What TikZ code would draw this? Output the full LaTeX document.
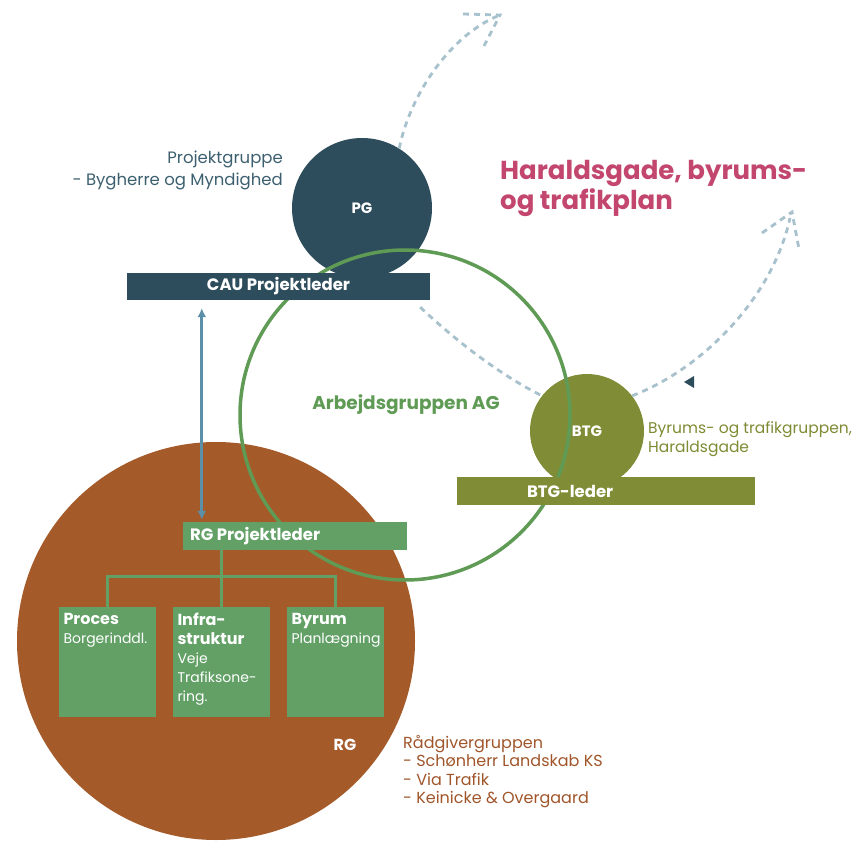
\documentclass[tikz,border=0pt]{standalone}
\usepackage{fontspec}
\setmainfont{Poppins}
\usetikzlibrary{positioning,arrows.meta}

\definecolor{slate}{HTML}{2E4D5C}
\definecolor{slatetext}{HTML}{3D6070}
\definecolor{rose}{HTML}{C2466E}
\definecolor{leaf}{HTML}{5F9B55}
\definecolor{boxgreen}{HTML}{62A066}
\definecolor{rust}{HTML}{A55A2A}
\definecolor{rusttext}{HTML}{A0552A}
\definecolor{olive}{HTML}{808D36}
\definecolor{olivetext}{HTML}{7F8B33}
\definecolor{steel}{HTML}{5C90A8}
\definecolor{mist}{HTML}{A7C1CD}

\newcommand{\boxheadfont}{\bfseries\fontsize{16}{19}\selectfont}

\tikzset{
  disc/.style={circle, inner sep=0pt, text=white, font=\bfseries\fontsize{15}{18}\selectfont},
  bar/.style={rectangle, inner sep=0pt, text=white, font=\bfseries\fontsize{16.5}{18}\selectfont},
  subbox/.style={rectangle, fill=boxgreen, minimum width=97pt, minimum height=110pt, inner sep=0pt},
  boxtext/.style={align=left, inner sep=0pt, text=white, font=\fontsize{14}{19}\selectfont},
  tree/.style={boxgreen, line width=3pt},
  flow/.style={mist, line width=2.8pt, dash pattern=on 6pt off 5pt},
  updown/.style={<->, >={Latex[length=9pt,width=9pt]}, steel, line width=3pt},
  note/.style={align=left, inner sep=0pt, font=\fontsize{16.5}{22}\selectfont},
}

\begin{document}
\begin{tikzpicture}[x=1pt,y=-1pt]

\fill[white] (0,0) rectangle (856,842);
\useasboundingbox (0,0) rectangle (856,842);

% raadgivergruppen
\node[disc, fill=rust, minimum size=398pt] (RG) at (216,641) {};
\node[disc, font=\bfseries\fontsize{16}{18}\selectfont] (RGlbl) at (345,745) {RG};

\node[disc, fill=slate, minimum size=140pt] (PG) at (362,208) {PG};
\node[disc, fill=olive, minimum size=114pt] (BTG) at (587,431) {BTG};

% dashed arcs
\coordinate (upA) at (500,15);
\coordinate (upB) at (790,218);
\draw[flow] (PG.58) .. controls (410,95) and (450,35) .. (upA);
\draw[flow] (463,14) -- (upA) -- (484,46);
\draw[flow] (BTG.38) .. controls (700,370) and (772,300) .. (upB);
\draw[flow] (762,233) -- (792,212) -- (799,249);
\fill[slate] (684,382) -- (694,376) -- (694,388) -- cycle;

% arbejdsgruppen
\node[circle, draw=leaf, line width=3.5pt, minimum size=330pt] (AG) at (405,415) {};
\node[text=leaf, font=\bfseries\fontsize{18.5}{20}\selectfont] (AGlbl) at (406,405) {Arbejdsgruppen AG};

\node[bar, fill=slate, minimum width=303pt, minimum height=27pt] (CAU) at (278.5,286.5) {CAU Projektleder};
\draw[flow] ([xshift=-10pt,yshift=-7pt]CAU.south east) .. controls (455,340) and (500,375) .. (BTG.142);
\node[bar, fill=olive, minimum width=298pt, minimum height=28pt] (BTGL) at (606,491) {};
\node[bar, right=70pt of BTGL.west] (BTGLtxt) {BTG-leder};
\node[bar, fill=boxgreen, minimum width=224pt, minimum height=28pt] (RGPL) at (295,536) {};
\node[bar, right=7pt of RGPL.west] (RGPLtxt) {RG Projektleder};

% fagboksene
\node[subbox] (proc) at (107,662) {};
\node[subbox] (infra) at (221,662) {};
\node[subbox] (byrum) at (335,662) {};
\node[boxtext, below right=6pt and 5pt of proc.north west] (proctxt)
  {{\boxheadfont Proces}\\Borgerinddl.};
\node[boxtext, below right=6pt and 5pt of infra.north west] (infratxt)
  {{\boxheadfont Infra-}\\{\boxheadfont struktur}\\Veje\\Trafiksone-\\ring.};
\node[boxtext, below right=6pt and 5pt of byrum.north west] (byrumtxt)
  {{\boxheadfont Byrum}\\Planlægning};

\coordinate (fork) at (221,576);
\draw[tree] (RGPL.south -| fork) -- (infra.north);
\draw[tree] (proc.north) |- (fork) -| (byrum.north);

\coordinate (lift) at ([xshift=19pt]RGPL.north west);
\draw[updown, shorten <=2pt, shorten >=8pt] (lift) -- (lift |- CAU.south);

% tekster
\node[note, anchor=east, align=right, text=slatetext] (PGtxt) at (283,170) {Projektgruppe\\- Bygherre og Myndighed};
\node[anchor=west, align=left, inner sep=0pt, text=rose, font=\bfseries\fontsize{26}{30}\selectfont] (title) at (500,188) {Haraldsgade, byrums-\\og trafikplan};
\node[note, anchor=west, text=olivetext, font=\fontsize{15.5}{19}\selectfont] (BTGtxt) at (648,439) {Byrums- og trafikgruppen,\\Haraldsgade};
\node[note, anchor=north west, text=rusttext, font=\fontsize{16}{18.5}\selectfont] (RGtxt) at (403,735) {Rådgivergruppen\\- Schønherr Landskab KS\\- Via Trafik\\- Keinicke \& Overgaard};

\end{tikzpicture}
\end{document}
